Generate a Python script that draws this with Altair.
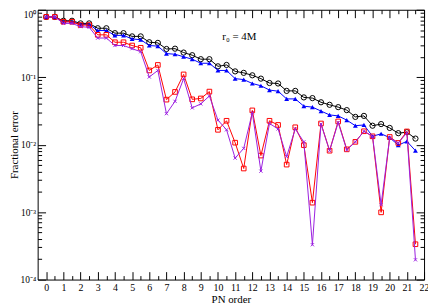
import altair as alt
import pandas as pd

# ---- data ----
pn_order = [0, 0.5, 1, 1.5, 2, 2.5, 3, 3.5, 4, 4.5, 5, 5.5, 6, 6.5, 7, 7.5,
            8, 8.5, 9, 9.5, 10, 10.5, 11, 11.5, 12, 12.5, 13, 13.5, 14, 14.5,
            15, 15.5, 16, 16.5, 17, 17.5, 18, 18.5, 19, 19.5, 20, 20.5, 21, 21.5]

err_black = [0.784, 0.784, 0.687, 0.687, 0.628, 0.628, 0.532, 0.532, 0.450, 0.450,
             0.403, 0.403, 0.330, 0.323, 0.262, 0.265, 0.232, 0.212, 0.185, 0.185,
             0.145, 0.152, 0.122, 0.116, 0.1067, 0.0953, 0.082, 0.0807, 0.0627, 0.0627,
             0.0502, 0.0490, 0.0425, 0.039, 0.0360, 0.0325, 0.0258, 0.0267, 0.0191, 0.0202,
             0.0177, 0.0148, 0.0153, 0.0123]

err_blue = [0.784, 0.784, 0.664, 0.664, 0.607, 0.607, 0.492, 0.492, 0.417, 0.417,
            0.369, 0.360, 0.295, 0.289, 0.224, 0.219, 0.201, 0.185, 0.161, 0.161,
            0.126, 0.126, 0.0953, 0.0922, 0.0807, 0.0747, 0.0645, 0.062, 0.0477, 0.0477,
            0.0372, 0.0360, 0.0315, 0.0276, 0.0267, 0.0231, 0.0191, 0.0196, 0.0133, 0.0145,
            0.0127, 0.00984, 0.0112, 0.00814]

err_red = [0.784, 0.784, 0.664, 0.664, 0.593, 0.593, 0.425, 0.425, 0.330, 0.330,
           0.295, 0.273, 0.126, 0.152, 0.0465, 0.0605, 0.110, 0.047, 0.0484, 0.0612,
           0.0166, 0.0226, 0.0107, 0.00443, 0.0322, 0.00689, 0.0226, 0.0196, 0.00506, 0.0181,
           0.00984, 0.00138, 0.0206, 0.00814, 0.0221, 0.00852, 0.0110, 0.0158, 0.0133, 0.000992,
           0.0130, 0.0106, 0.0157, 0.000334]

err_violet = [0.784, 0.784, 0.628, 0.628, 0.562, 0.549, 0.381, 0.381, 0.295, 0.295,
              0.265, 0.239, 0.1008, 0.126, 0.0288, 0.0439, 0.0953, 0.0351, 0.0402, 0.0527,
              0.0231, 0.0166, 0.00632, 0.00881, 0.0298, 0.00405, 0.0206, 0.0171, 0.00666, 0.0171,
              0.0110, 0.000328, 0.0202, 0.00814, 0.0213, 0.00833, 0.0110, 0.0158, 0.0133, 0.00129,
              0.0127, 0.0106, 0.0150, 0.000196]

# tick positions
major_x = list(range(0, 23))
minor_x = [0.5, 1.5, 2.5, 3.5, 4.5, 5.5, 6.5, 7.5, 8.5, 9.5, 10.5, 11.5, 12.5,
           13.5, 14.5, 15.5, 16.5, 17.5, 18.5, 19.5, 20.5, 21.5]
major_y = [1e-4, 1e-3, 1e-2, 1e-1, 1]
minor_mult = [2, 3, 4, 5, 6, 7, 8, 9]
minor_y = [m * d for d in [1e-4, 1e-3, 1e-2, 1e-1] for m in minor_mult]

annot_text = ["r\u2080 = 4M"]
annot_x = [10.25]
annot_y = [0.40]

df = pd.DataFrame({"pn": pn_order, "black": err_black, "blue": err_blue,
                   "red": err_red, "violet": err_violet})

FONT = "Liberation Serif"
xs = alt.Scale(domain=[-0.5, 22], nice=False, zero=False)
ys = alt.Scale(type="log", domain=[1e-4, 1], nice=False)

sup_expr = "'10' + ['\u2070','\u207b\u00b9','\u207b\u00b2','\u207b\u00b3','\u207b\u2074'][round(-log(datum.value)/LN10)]"

MAJ = 8
MIN = 4


def axis_layer(xaxis, yaxis):
    return alt.Chart(df).mark_point(opacity=0).encode(
        x=alt.X("pn:Q", scale=xs, axis=xaxis),
        y=alt.Y("black:Q", scale=ys, axis=yaxis),
    )


common = dict(domain=False, grid=False, tickColor="black", tickWidth=1)

ax_major = axis_layer(
    alt.Axis(orient="bottom", values=major_x, tickSize=MAJ, offset=-MAJ,
             labelPadding=3, labelFont=FONT, labelFontSize=10, labelColor="black",
             title="PN order", titleFont=FONT, titleFontSize=11, titleFontWeight="normal",
             titleColor="black", titlePadding=1, labelFlush=False, **common),
    alt.Axis(orient="left", values=major_y, tickSize=MAJ, offset=-MAJ,
             labelPadding=2, labelFont=FONT, labelFontSize=9.5, labelColor="black",
             labelExpr=sup_expr,
             labelBaseline=alt.condition("datum.value >= 1", alt.value("top"), alt.value("middle")),
             title="Fractional error", titleFont=FONT, titleFontSize=11,
             titleFontWeight="normal", titleColor="black", titlePadding=1,
             labelFlush=False, **common),
)
ax_minor = axis_layer(
    alt.Axis(orient="bottom", values=minor_x, tickSize=MIN, offset=-MIN,
             labels=False, title=None, **common),
    alt.Axis(orient="left", values=minor_y, tickSize=MIN, offset=-MIN,
             labels=False, title=None, **common),
)
ax_major_top = axis_layer(
    alt.Axis(orient="top", values=major_x, tickSize=MAJ, offset=-MAJ,
             labels=False, title=None, **common),
    alt.Axis(orient="right", values=major_y, tickSize=MAJ, offset=-MAJ,
             labels=False, title=None, **common),
)
ax_minor_top = axis_layer(
    alt.Axis(orient="top", values=minor_x, tickSize=MIN, offset=-MIN,
             labels=False, title=None, **common),
    alt.Axis(orient="right", values=minor_y, tickSize=MIN, offset=-MIN,
             labels=False, title=None, **common),
)


def series(col, color, shape, filled, size):
    base = alt.Chart(df).encode(
        x=alt.X("pn:Q", scale=xs, axis=None),
        y=alt.Y(f"{col}:Q", scale=ys, axis=None),
    )
    line = base.mark_line(color=color, strokeWidth=1)
    pts = base.mark_point(shape=shape, filled=filled, color=color, size=size,
                          strokeWidth=1, opacity=1)
    return [line, pts]


layers = []
layers += series("black", "#000000", "circle", False, 28)
layers += series("blue", "#0000ff", "triangle-up", True, 24)
layers += series("red", "#ff0000", "square", False, 22)
layers += series("violet", "#9a1ee0", "M-1,-1L1,1M-1,1L1,-1", False, 10)

annot = alt.Chart(pd.DataFrame({"x": annot_x, "y": annot_y, "t": annot_text})).mark_text(
    align="left", baseline="middle", font=FONT, fontSize=11, color="black"
).encode(
    x=alt.X("x:Q", scale=xs, axis=None),
    y=alt.Y("y:Q", scale=ys, axis=None),
    text="t:N",
)

chart = alt.layer(
    ax_major, ax_minor, ax_major_top, ax_minor_top, *layers, annot
).resolve_axis(
    x="independent", y="independent"
).properties(
    width=391, height=273,
    autosize=alt.AutoSizeParams(type="none"),
    padding={"left": 30, "top": 0, "right": 4, "bottom": 27},
    background="white",
).configure_view(
    stroke="black", strokeWidth=1
)

chart.save("out.html", embed_options={"renderer": "svg", "actions": False})
